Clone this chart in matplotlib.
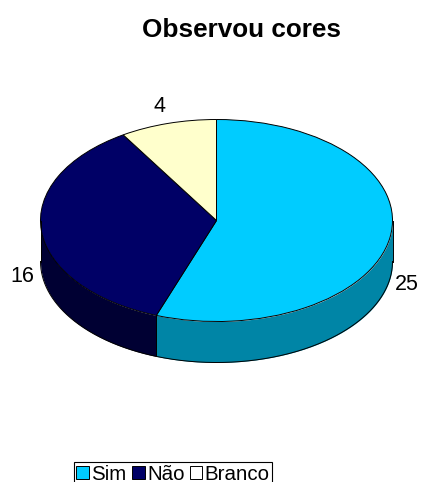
import numpy as np
import matplotlib
matplotlib.use('Agg')
import matplotlib.pyplot as plt
import matplotlib.patches as mpatches

plt.rcParams['font.family'] = ['Liberation Sans', 'DejaVu Sans']

title = "Observou cores"
categories = ["Sim", "Não", "Branco"]
values = [25, 16, 4]
top_colors = ["#00CCFF", "#000066", "#FFFFCC"]
side_colors = ["#0085A6", "#000033", "#A6A685"]
legend_colors = ["#00CCFF", "#000066", "#FFFFFF"]

W, H = 421, 482
cx, cy = 216.5, 220.5
rx, ry = 176, 101
depth = 41 / ry

fig = plt.figure(figsize=(W / 100, H / 100), dpi=100)
ax = fig.add_axes([0, 0, 1, 1])

#side walls first, only the front half of the disc shows
start = 90
for v, c in zip(values, side_colors):
    end = start - v / sum(values) * 360
    lo, hi = max(end, -180), min(start, 0)
    if lo < hi:
        t = np.radians(np.linspace(lo, hi, 200))
        ax.fill_between(np.cos(t), np.sin(t), np.sin(t) - depth, color=c, lw=0)
        ax.plot(np.cos(t), np.sin(t) - depth, color='black', lw=0.7)
        ax.plot([np.cos(t[0])] * 2, [np.sin(t[0]), np.sin(t[0]) - depth], color='black', lw=0.7)
        ax.plot([np.cos(t[-1])] * 2, [np.sin(t[-1]), np.sin(t[-1]) - depth], color='black', lw=0.7)
    start = end

wedges, _ = ax.pie(values, colors=top_colors, startangle=90, counterclock=False,
                   wedgeprops={'edgecolor': 'black', 'linewidth': 0.7})

#squash the pie into the tilted ellipse
ax.set_aspect('auto')
ax.set_xlim(-cx / rx, (W - cx) / rx)
ax.set_ylim(-(H - cy) / ry, cy / ry)
ax.axis('off')

fig.text(242 / W, 1 - 30 / H, title, ha='center', va='center', fontsize=18.8, fontweight='bold')
fig.text(159 / W, 1 - 106 / H, str(values[2]), ha='center', va='center', fontsize=15.5)
fig.text(22.5 / W, 1 - 276 / H, str(values[1]), ha='center', va='center', fontsize=15.5)
fig.text(407 / W, 1 - 285 / H, str(values[0]), ha='center', va='center', fontsize=15.5)

handles = [mpatches.Patch(facecolor=c, edgecolor='black', linewidth=0.7) for c in legend_colors]
leg = fig.legend(handles, categories, loc='center', bbox_to_anchor=(173 / W, 1 - 474 / H),
                 ncol=3, fontsize=14.8, frameon=True, fancybox=False, edgecolor='black',
                 framealpha=1, handlelength=0.62, handleheight=0.62, handletextpad=0.12,
                 columnspacing=0.25, borderpad=0.12, borderaxespad=0)
leg.get_frame().set_linewidth(0.8)

fig.savefig('out.png', dpi=100)
